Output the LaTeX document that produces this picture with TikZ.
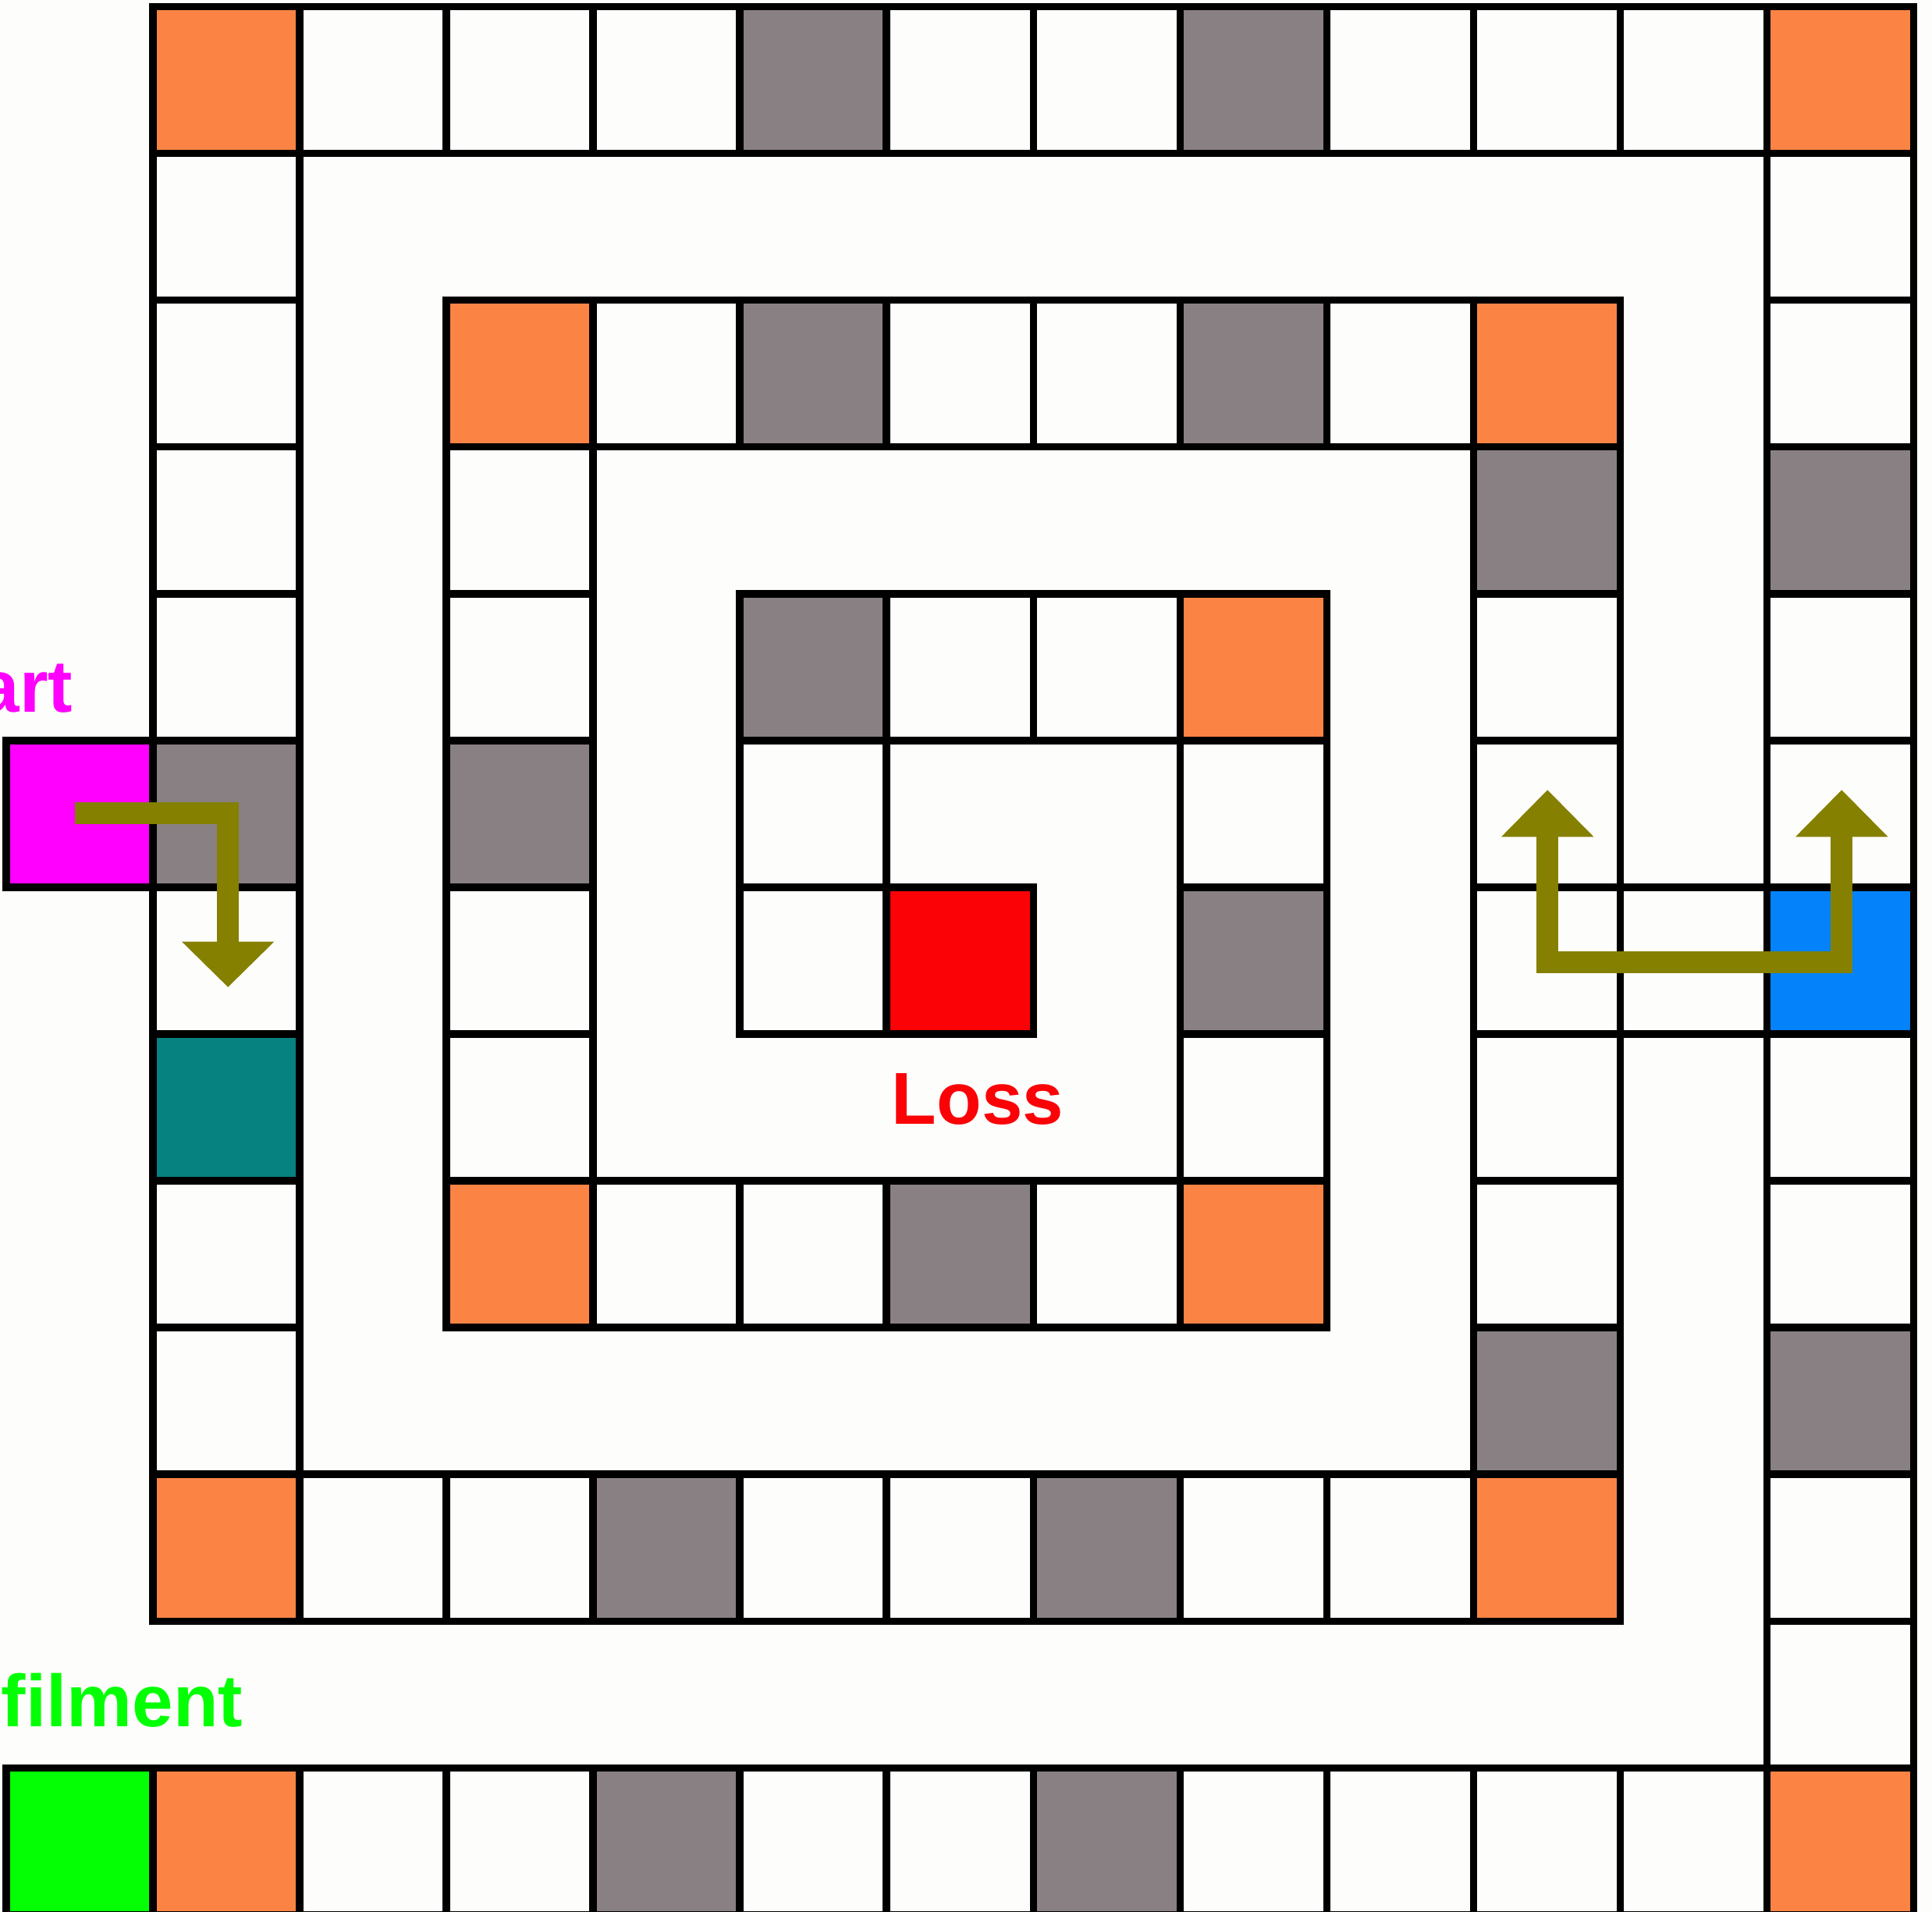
\documentclass[tikz,border=0pt]{standalone}
\usepackage{fontspec}
\setmainfont{Liberation Sans}
\definecolor{bgc}{HTML}{FDFDFB}
\definecolor{cW}{HTML}{FDFDFB}
\definecolor{cO}{HTML}{FB8445}
\definecolor{cG}{HTML}{888082}
\definecolor{cT}{HTML}{068280}
\definecolor{cB}{HTML}{0482FA}
\definecolor{cM}{HTML}{FF00FF}
\definecolor{cN}{HTML}{04FF04}
\definecolor{cR}{HTML}{FA0206}
\definecolor{cOl}{HTML}{858000}
\tikzset{
  cell/.style={draw=black, line width=0.59mm, minimum width=11.908mm, minimum height=11.908mm, inner sep=0pt, outer sep=0pt, rectangle},
  shaft/.style={draw=cOl, line width=1.8mm, line join=miter, line cap=butt},
  head/.style={fill=cOl},
  lbl/.style={inner sep=0pt, outer sep=0pt, font=\fontsize{17}{20}\selectfont\bfseries}
}
\begin{document}
\begin{tikzpicture}[x=11.908mm, y=-11.908mm]
\useasboundingbox (-0.042,-0.0462) rectangle (13.1256,12.979);
\clip (-0.042,-0.0462) rectangle (13.1256,12.979);
\fill[bgc] (-0.042,-0.0462) rectangle (13.1256,12.979);
% cells: column/row/colour
\foreach \i/\j/\c in {
 1/0/cO,2/0/cW,3/0/cW,4/0/cW,5/0/cG,6/0/cW,7/0/cW,8/0/cG,9/0/cW,10/0/cW,11/0/cW,12/0/cO,
 1/1/cW,1/2/cW,1/3/cW,1/4/cW,1/5/cG,1/6/cW,1/7/cT,1/8/cW,1/9/cW,1/10/cO,
 2/10/cW,3/10/cW,4/10/cG,5/10/cW,6/10/cW,7/10/cG,8/10/cW,9/10/cW,10/10/cO,
 10/2/cO,10/3/cG,10/4/cW,10/5/cW,10/6/cW,10/7/cW,10/8/cW,10/9/cG,
 3/2/cO,4/2/cW,5/2/cG,6/2/cW,7/2/cW,8/2/cG,9/2/cW,
 3/3/cW,3/4/cW,3/5/cG,3/6/cW,3/7/cW,3/8/cO,
 4/8/cW,5/8/cW,6/8/cG,7/8/cW,8/8/cO,
 8/4/cO,8/5/cW,8/6/cG,8/7/cW,
 5/4/cG,6/4/cW,7/4/cW,
 5/5/cW,5/6/cW,
 6/6/cR,
 12/1/cW,12/2/cW,12/3/cG,12/4/cW,12/5/cW,12/6/cB,12/7/cW,12/8/cW,12/9/cG,12/10/cW,12/11/cW,12/12/cO,
 11/6/cW,
 0/12/cN,1/12/cO,2/12/cW,3/12/cW,4/12/cG,5/12/cW,6/12/cW,7/12/cG,8/12/cW,9/12/cW,10/12/cW,11/12/cW,
 0/5/cM}
 {\node[cell, fill=\c] (c-\i-\j) at (\i+0.5,\j+0.5) {};}
% labels
\node[lbl, text=cM, anchor=base east] (start) at (0.4535,4.808) {Start};
\node[lbl, text=cR, anchor=base west] (loss) at (6.035,7.613) {Loss};
\node[lbl, text=cN, anchor=base east] (fulfil) at (1.612,11.719) {Fulfilment};
% left arrow
\coordinate (a1s) at (0.47,5.496);
\coordinate (a1c) at (1.512,5.496);
\coordinate (a1e) at (1.512,6.40);
\coordinate (a1t) at (1.512,6.68);
\draw[shaft] (a1s) -- (a1c) -- (a1e);
\fill[head] (1.197,6.37) -- (1.827,6.37) -- (a1t) -- cycle;
% right arrow
\coordinate (b1e) at (10.505,5.63);
\coordinate (b1c) at (10.505,6.51);
\coordinate (b2c) at (12.51,6.51);
\coordinate (b2e) at (12.51,5.63);
\coordinate (b1t) at (10.505,5.337);
\coordinate (b2t) at (12.51,5.337);
\draw[shaft] (b1e) -- (b1c) -- (b2c) -- (b2e);
\fill[head] (10.19,5.656) -- (10.82,5.656) -- (b1t) -- cycle;
\fill[head] (12.195,5.656) -- (12.825,5.656) -- (b2t) -- cycle;
\end{tikzpicture}
\end{document}
